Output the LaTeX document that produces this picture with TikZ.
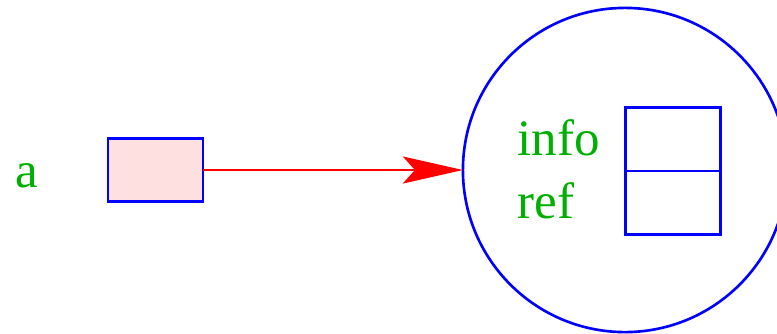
\documentclass[tikz,border=0pt]{standalone}
\usepackage{fontspec}
\setmainfont{Liberation Serif}
\usepackage{tikz}
\usetikzlibrary{arrows.meta,positioning}
\definecolor{textgreen}{RGB}{0,176,0}
\definecolor{cellpink}{RGB}{255,224,224}

\begin{document}
\begin{tikzpicture}[
        x=0.01cm, y=-0.01cm,
        every node/.style={font=\fontsize{14.5}{17}\selectfont},
        label/.style={text=textgreen, inner sep=0pt, anchor=base west},
        cell/.style={draw=blue, line width=0.75pt, inner sep=0pt, outer sep=0pt, minimum width=0.95cm, minimum height=0.635cm},
        ptr/.style={red, line width=0.75pt, -{Stealth[length=0.6cm, width=0.27cm, inset=0.12cm]}}
    ]
        \useasboundingbox (0,0) rectangle (777,333);
        \clip (0,0) rectangle (777,333);

        \node[label] (lbla) at (15,187) {a};
        \node[cell, fill=cellpink, minimum height=0.63cm] (var) at (155.5,170) {};

        \node[circle, draw=blue, line width=0.75pt, minimum size=3.24cm, inner sep=0pt, outer sep=0pt] (obj) at (625,170) {};
        \node[cell, anchor=south] (infocell) at (673,171) {};
        \node[cell, anchor=north] (refcell) at (infocell.south) {};
        \node[label] (lblinfo) at (517,155) {info};
        \node[label] (lblref) at (517,218) {ref};

        \draw[ptr] (var.east) -- (obj.west);
    \end{tikzpicture}
\end{document}
